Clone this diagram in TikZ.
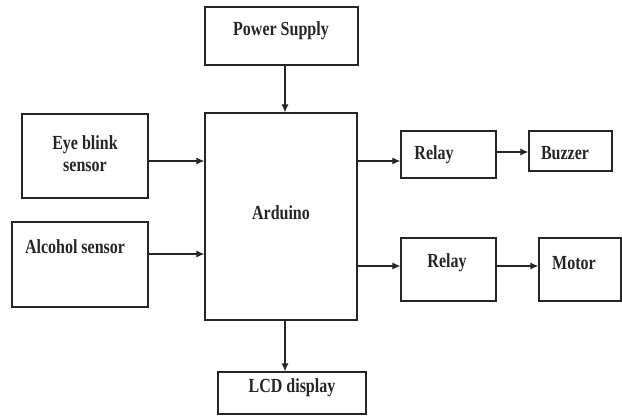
\documentclass[tikz,border=0pt]{standalone}
\usepackage{fontspec}
\setmainfont{Liberation Serif}[FakeStretch=0.8]
\usetikzlibrary{arrows.meta}
\begin{document}
\begin{tikzpicture}[x=1pt,y=-1pt,
  box/.style={draw=black!85,line width=1.3pt,inner sep=0pt},
  lbl/.style={font=\fontsize{20}{22}\selectfont\bfseries,inner sep=0pt,align=center,text=black!85},
  arr/.style={draw=black!85,line width=1.1pt,-{Latex[length=8pt,width=7pt]}}]
\useasboundingbox (0,0) rectangle (622,416);
% boxes
\node[box,minimum width=153pt,minimum height=58pt] (ps) at (281.5,36) {};
\node[box,minimum width=152pt,minimum height=207pt] (ard) at (281,216.5) {};
\node[box,minimum width=126pt,minimum height=84pt] (eye) at (85,156) {};
\node[box,minimum width=136pt,minimum height=85pt] (alc) at (80,264.5) {};
\node[box,minimum width=95pt,minimum height=47pt] (r1) at (448.5,154.5) {};
\node[box,minimum width=83pt,minimum height=40pt] (buz) at (570.5,151) {};
\node[box,minimum width=95pt,minimum height=63pt] (r2) at (448.5,269.5) {};
\node[box,minimum width=82pt,minimum height=63pt] (mot) at (580,269.5) {};
\node[box,minimum width=148pt,minimum height=42pt] (lcd) at (292,393) {};
% labels
\node[lbl] (psT) at (281,31) {Power Supply};
\node[lbl] (ardT) at (281,213) {Arduino};
\node[lbl] (eyeT) at (85,154) {Eye blink\\sensor};
\node[lbl] (alcT) at (75,247) {Alcohol sensor};
\node[lbl] (r1T) at (434,155) {Relay};
\node[lbl] (buzT) at (565,153) {Buzzer};
\node[lbl] (r2T) at (447,263) {Relay};
\node[lbl] (motT) at (574,263) {Motor};
\node[lbl] (lcdT) at (292,388) {LCD display};
% connectors
\draw[arr] (ps.south -| 285,0) -- (ard.north -| 285,0);
\draw[arr] (ard.south -| 285,0) -- (lcd.north -| 285,0);
\draw[arr] (eye.east |- 0,161) -- (ard.west |- 0,161);
\draw[arr] (alc.east |- 0,254) -- (ard.west |- 0,254);
\draw[arr] (ard.east |- 0,161) -- (r1.west |- 0,161);
\draw[arr] (r1.east |- 0,152) -- (buz.west |- 0,152);
\draw[arr] (ard.east |- 0,266) -- (r2.west |- 0,266);
\draw[arr] (r2.east |- 0,266) -- (mot.west |- 0,266);
\end{tikzpicture}
\end{document}
